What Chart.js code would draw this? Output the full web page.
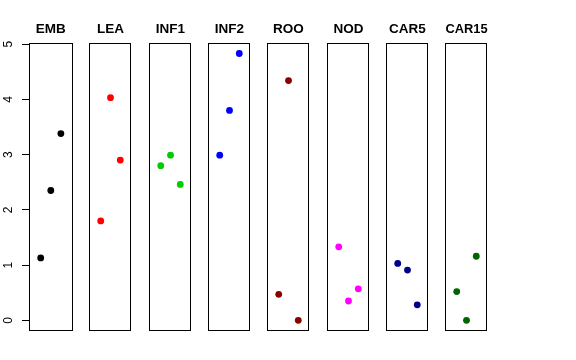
<!DOCTYPE html>
<html>
<head>
<meta charset="utf-8">
<script src="https://cdn.jsdelivr.net/npm/chart.js@4.4.1/dist/chart.umd.min.js"></script>
<style>
  body { margin: 0; background: #fff; }
  #wrap { position: relative; width: 576px; height: 360px; overflow: hidden; }
  #wrap canvas { position: absolute; top: 0; }
</style>
</head>
<body>
<div id="wrap"></div>
<script>
// one panel per tissue, three replicates each
const tissues = ['EMB', 'LEA', 'INF1', 'INF2', 'ROO', 'NOD', 'CAR5', 'CAR15']
const replicate = [1, 2, 3]
const EMB = [1.13, 2.35, 3.38]
const LEA = [1.80, 4.03, 2.90]
const INF1 = [2.80, 2.99, 2.46]
const INF2 = [2.99, 3.80, 4.83]
const ROO = [0.47, 4.34, 0.00]
const NOD = [1.33, 0.35, 0.57]
const CAR5 = [1.03, 0.91, 0.28]
const CAR15 = [0.52, 0.00, 1.16]
const yTicks = [0, 1, 2, 3, 4, 5]

const values = [EMB, LEA, INF1, INF2, ROO, NOD, CAR5, CAR15]
const colors = ['#000000', '#FF0000', '#00CD00', '#0000FF', '#8B0000', '#FF00FF', '#00008B', '#006400']

const boxLeft = 29
const boxStep = 59.3
const boxW = 45
const edge = 2

// draw the R-style box around each panel
const boxPlugin = {
    id: 'box',
    afterDraw(chart) {
        const a = chart.chartArea
        const ctx = chart.ctx
        ctx.save()
        ctx.strokeStyle = '#000'
        ctx.lineWidth = 1
        ctx.strokeRect(Math.round(a.left) + 0.5, Math.round(a.top) + 0.5,
            Math.round(a.right - a.left) - 1, Math.round(a.bottom - a.top) - 1)
        ctx.restore()
    }
}

const wrap = document.getElementById('wrap')

tissues.forEach((name, i) => {
    const first = i === 0
    const left = Math.round(boxLeft + i * boxStep)
    const cv = document.createElement('canvas')
    const cssLeft = first ? 0 : left - edge
    const yWidth = first ? left : edge
    const width = yWidth + boxW + edge
    cv.style.left = cssLeft + 'px'
    cv.style.width = width + 'px'
    cv.style.height = '360px'
    cv.width = width
    cv.height = 360
    wrap.appendChild(cv)

    new Chart(cv, {
        type: 'scatter',
        data: {
            datasets: [{
                label: name,
                data: replicate.map((r, k) => ({ x: r, y: values[i][k] })),
                pointRadius: 3.4,
                pointHoverRadius: 3.4,
                borderWidth: 0,
                backgroundColor: colors[i],
                pointBackgroundColor: colors[i],
            }]
        },
        options: {
            responsive: false,
            animation: false,
            events: [],
            layout: { padding: { top: 0, bottom: 29, left: 0, right: edge } },
            plugins: {
                legend: { display: false },
                tooltip: { enabled: false },
                title: {
                    display: true,
                    fullSize: false,
                    text: name,
                    color: '#000',
                    font: { family: 'Liberation Sans, Arial, sans-serif', size: 13.5, weight: 'bold' },
                    padding: { top: 21, bottom: 5.8 },
                },
            },
            scales: {
                x: { type: 'linear', display: false, min: -0.16, max: 4.16 },
                y: {
                    type: 'linear',
                    min: -0.193,
                    max: 5.02,
                    afterFit: s => { s.width = yWidth },
                    afterBuildTicks: s => { s.ticks = yTicks.map(v => ({ value: v })) },
                    border: { display: false },
                    grid: {
                        display: first,
                        drawOnChartArea: false,
                        drawTicks: true,
                        tickLength: 7,
                        color: '#000',
                    },
                    ticks: {
                        display: first,
                        minRotation: 90,
                        maxRotation: 90,
                        crossAlign: 'center',
                        padding: 10,
                        color: '#000',
                        font: { family: 'Liberation Sans, Arial, sans-serif', size: 12 },
                    },
                },
            },
        },
        plugins: [boxPlugin],
    })
})
</script>
</body>
</html>
